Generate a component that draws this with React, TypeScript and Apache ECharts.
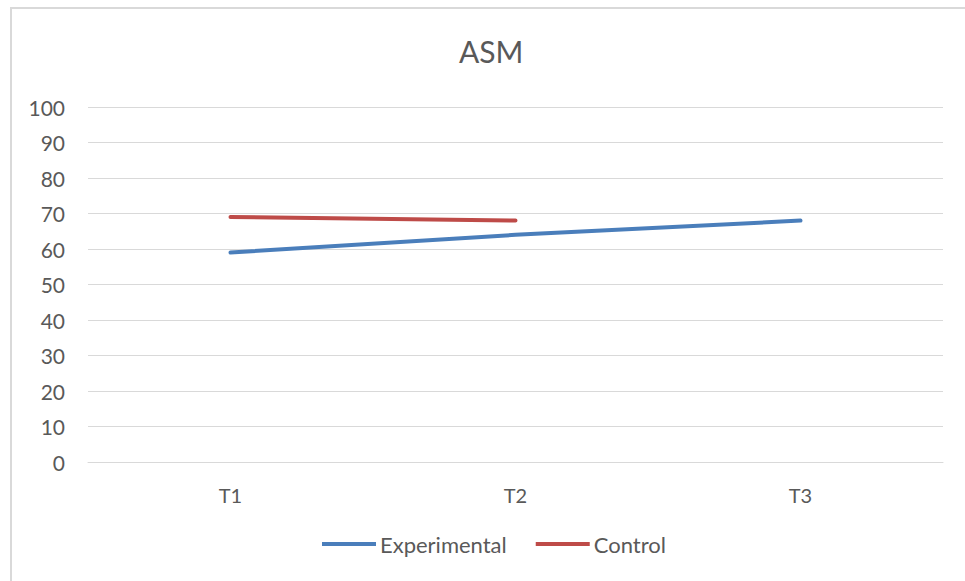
import React, { useEffect, useRef } from "react";
import * as echarts from "echarts";

const categories = ["T1", "T2", "T3"];
const experimental = [59, 64, 68];
const control = [69, 68, null];
const titleText = "ASM";

const FONT = "Lato, 'Open Sans', sans-serif";
const TEXT = "#595959";

export default function App() {
  const ref = useRef<HTMLDivElement>(null);
  useEffect(() => {
    if (!ref.current) return;
    const chart = echarts.init(ref.current, undefined, { renderer: "svg" });
    chart.setOption({
      animation: false,
      backgroundColor: "#ffffff",
      textStyle: { fontFamily: FONT },
      title: {
        text: titleText,
        left: 459,
        top: 36,
        padding: 0,
        textStyle: { fontFamily: FONT, fontSize: 30, fontWeight: "normal", color: TEXT },
      },
      graphic: [
        {
          type: "rect",
          shape: { x: 11, y: 8, width: 1200, height: 1200 },
          style: { fill: "none", stroke: "#d9d9d9", lineWidth: 2 },
          silent: true,
        },
      ],
      grid: { left: 88, right: 22, top: 107, bottom: 119, containLabel: false },
      legend: {
        bottom: 21,
        left: 317,
        itemWidth: 54,
        itemHeight: 4,
        itemGap: 29,
        icon: "rect",
        textStyle: { fontFamily: FONT, fontSize: 22, color: TEXT, padding: [0, 0, 0, -1] },
        data: ["Experimental", "Control"],
      },
      xAxis: {
        type: "category",
        data: categories,
        boundaryGap: true,
        axisLine: { show: true, lineStyle: { color: "#d9d9d9", width: 1 } },
        axisTick: { show: false },
        axisLabel: { color: TEXT, fontSize: 20, fontFamily: FONT, margin: 23 },
      },
      yAxis: {
        type: "value",
        min: 0,
        max: 100,
        interval: 10,
        axisLine: { show: false },
        axisTick: { show: false },
        splitLine: { lineStyle: { color: "#d9d9d9", width: 1 } },
        axisLabel: { color: TEXT, fontSize: 21, fontFamily: FONT, margin: 23 },
      },
      series: [
        {
          name: "Experimental",
          type: "line",
          data: experimental,
          symbol: "none",
          itemStyle: { color: "#4a7ebb" },
          lineStyle: { color: "#4a7ebb", width: 4, cap: "round" },
        },
        {
          name: "Control",
          type: "line",
          data: control,
          symbol: "none",
          itemStyle: { color: "#be4b48" },
          lineStyle: { color: "#be4b48", width: 4, cap: "round" },
        },
      ],
    });
    return () => chart.dispose();
  }, []);
  return (
    <div
      ref={ref}
      style={{ position: "absolute", left: 0, top: 0, width: 965, height: 581 }}
    />
  );
}
